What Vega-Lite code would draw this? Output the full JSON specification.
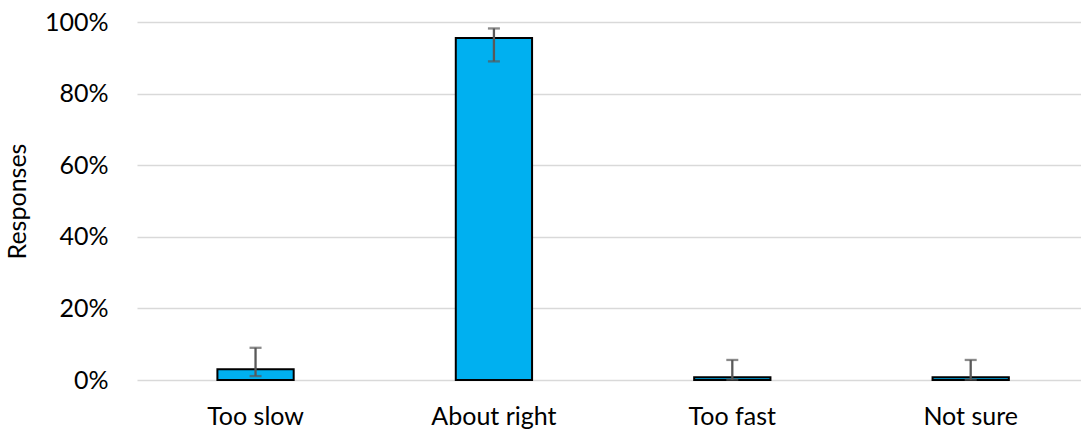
{
  "$schema": "https://vega.github.io/schema/vega-lite/v6.json",
  "autosize": "none",
  "width": 944,
  "height": 358,
  "padding": {"left": 137, "top": 22, "right": 0, "bottom": 53},
  "background": "white",
  "config": {
    "view": {"stroke": null},
    "font": "Lato"
  },
  "data": {
    "values": [
      {"category": "Too slow", "value": 0.030, "low": 0.011, "high": 0.090},
      {"category": "About right", "value": 0.955, "low": 0.890, "high": 0.982},
      {"category": "Too fast", "value": 0.0075, "low": 0.001, "high": 0.056},
      {"category": "Not sure", "value": 0.0075, "low": 0.001, "high": 0.056}
    ]
  },
  "encoding": {
    "x": {
      "field": "category",
      "type": "nominal",
      "sort": null,
      "scale": {"paddingInner": 0.68, "paddingOuter": 0.32, "align": 0.527},
      "axis": {
        "title": null,
        "labelAngle": 0,
        "labelFontSize": 25,
        "labelColor": "#000000",
        "labelPadding": 24,
        "ticks": false,
        "domain": false
      }
    }
  },
  "layer": [
    {
      "mark": {"type": "bar", "fill": "#00B0F0", "stroke": "#000000", "strokeWidth": 2},
      "encoding": {
        "y": {
          "field": "value",
          "type": "quantitative",
          "scale": {"domain": [0, 1], "nice": false},
          "axis": {
            "format": ".0%",
            "values": [0, 0.2, 0.4, 0.6, 0.8, 1],
            "title": "Responses",
            "titleFontSize": 25,
            "titleFontWeight": "normal",
            "titleColor": "#000000",
            "titlePadding": 14,
            "labelFontSize": 25,
            "labelColor": "#000000",
            "labelPadding": 29,
            "ticks": false,
            "domain": false,
            "gridColor": "#D9D9D9",
            "gridWidth": 1.5
          }
        }
      }
    },
    {
      "mark": {"type": "rule", "stroke": "#595959", "strokeWidth": 2.3},
      "encoding": {
        "y": {"field": "low", "type": "quantitative"},
        "y2": {"field": "high"}
      }
    },
    {
      "mark": {"type": "tick", "color": "#595959", "thickness": 2.3, "size": 12},
      "encoding": {
        "y": {"field": "low", "type": "quantitative"}
      }
    },
    {
      "mark": {"type": "tick", "color": "#595959", "thickness": 2.3, "size": 12},
      "encoding": {
        "y": {"field": "high", "type": "quantitative"}
      }
    }
  ]
}
